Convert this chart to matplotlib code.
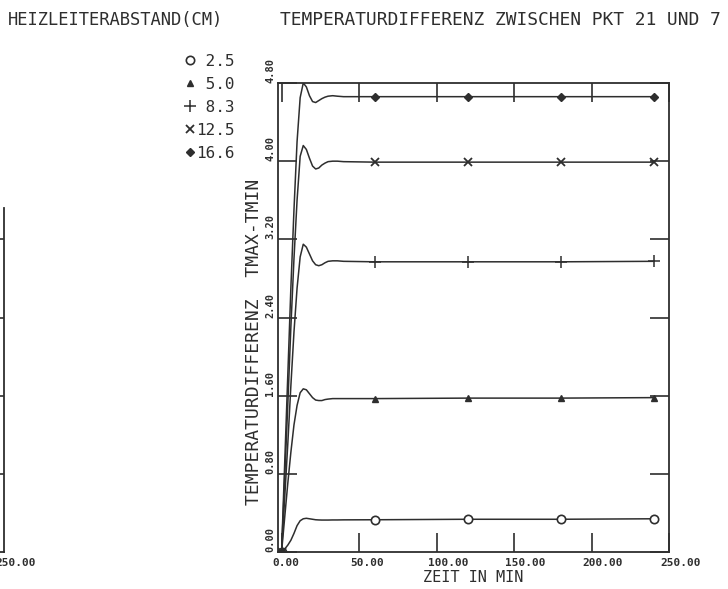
import numpy as np
import matplotlib.pyplot as plt
from matplotlib.lines import Line2D
from matplotlib.transforms import ScaledTranslation

# zeit in min
t = [0, 2, 4, 6, 8, 10, 12, 14, 16, 18, 20, 22, 24, 26, 28, 30, 33, 36, 40, 60, 120, 180, 240]
# temperaturdifferenz tmax-tmin je heizleiterabstand
d_25 = [0, 0.03, 0.07, 0.12, 0.19, 0.27, 0.32, 0.34, 0.345, 0.34, 0.335, 0.33, 0.328, 0.327, 0.327,
        0.327, 0.328, 0.328, 0.329, 0.33, 0.335, 0.335, 0.34]
d_50 = [0, 0.35, 0.7, 1.02, 1.3, 1.5, 1.63, 1.67, 1.66, 1.62, 1.58, 1.555, 1.55, 1.55, 1.56,
        1.565, 1.57, 1.57, 1.57, 1.57, 1.575, 1.575, 1.58]
d_83 = [0, 0.55, 1.1, 1.7, 2.25, 2.7, 3.02, 3.15, 3.12, 3.05, 2.98, 2.94, 2.93, 2.94, 2.96,
        2.975, 2.98, 2.98, 2.975, 2.97, 2.97, 2.97, 2.975]
d_125 = [0, 0.75, 1.5, 2.3, 3.0, 3.6, 4.05, 4.16, 4.12, 4.03, 3.95, 3.92, 3.93, 3.96, 3.98,
         3.995, 4.0, 4.0, 3.995, 3.99, 3.99, 3.99, 3.99]
d_166 = [0, 0.9, 1.8, 2.7, 3.5, 4.2, 4.65, 4.8, 4.76, 4.67, 4.61, 4.6, 4.62, 4.64, 4.655,
         4.665, 4.67, 4.665, 4.66, 4.66, 4.66, 4.66, 4.66]
series = [d_25, d_50, d_83, d_125, d_166]
abstand = [' 2.5', ' 5.0', ' 8.3', '12.5', '16.6']
marker_t = [0, 60, 120, 180, 240]

xticks = [0, 50, 100, 150, 200, 250]
yticks = [0.0, 0.8, 1.6, 2.4, 3.2, 4.0, 4.8]

ink = '#2e2e2e'
mono = 'DejaVu Sans Mono'
styles = [dict(marker='o', ms=6, mfc='white', mec=ink, mew=1.2),
          dict(marker='^', ms=5, mfc=ink, mec=ink),
          dict(marker='+', ms=8, mec=ink, mew=1.1),
          dict(marker='x', ms=6, mec=ink, mew=1.3),
          dict(marker='D', ms=4.5, mfc=ink, mec=ink)]

W, H = 728, 589
fig = plt.figure(figsize=(W / 100, H / 100), dpi=100)

# main panel
ax = fig.add_axes([278 / W, 1 - 552 / H, (669 - 278) / W, (552 - 83) / H])
ax.set_xlim(-2.3, 250)
ax.set_ylim(0, 4.8)
for y, st in zip(series, styles):
    ax.plot(t, y, color=ink, lw=1.1, zorder=2)
    idx = [t.index(m) for m in marker_t]
    ax.plot([t[i] for i in idx], [y[i] for i in idx], ls='none', zorder=3, **st)

for s in ax.spines.values():
    s.set_linewidth(1.3)
    s.set_color(ink)
ax.set_xticks(xticks)
ax.set_yticks(yticks)
ax.tick_params(direction='in', length=14, width=1.2, color=ink,
               top=True, right=True, labelbottom=False, labelleft=False)

off_x = ScaledTranslation(-9 / 100, -6 / 100, fig.dpi_scale_trans)
for xv in xticks:
    ax.text(xv, 0, '%.2f' % xv, transform=ax.get_xaxis_transform() + off_x,
            ha='left', va='top', fontsize=8, family=mono, fontweight='bold', color=ink)
off_y = ScaledTranslation(-3 / 100, 0, fig.dpi_scale_trans)
for yv in yticks:
    ax.text(0, yv, '%.2f' % yv, transform=ax.get_yaxis_transform() + off_y, rotation=90,
            ha='right', va='bottom', fontsize=7.5, family=mono, fontweight='bold', color=ink)

ax.text(0.5, -0.038, 'ZEIT IN MIN', transform=ax.transAxes, ha='center', va='top',
        fontsize=11, family=mono, color=ink)
fig.text(254 / W, 1 - 342 / H, 'TEMPERATURDIFFERENZ  TMAX-TMIN', rotation=90,
         ha='center', va='center', fontsize=13, family=mono, color=ink)

# cut-off neighbour panel on the left
ax2 = fig.add_axes([-0.3, 1 - 552 / H, 0.3 + 4 / W, (552 - 83) / H])
ax2.set_xlim(0, 250)
ax2.set_ylim(0, 4.8)
for k in ['top', 'left']:
    ax2.spines[k].set_visible(False)
ax2.spines['right'].set_bounds(0, 3.52)
for s in ax2.spines.values():
    s.set_linewidth(1.3)
    s.set_color(ink)
ax2.set_xticks([250])
ax2.set_yticks(yticks[1:5])
ax2.tick_params(direction='in', length=14, width=1.2, color=ink, left=False, right=True,
                bottom=False, labelbottom=False, labelleft=False)
ax2.text(250, 0, '250.00', transform=ax2.get_xaxis_transform() + off_x,
         ha='left', va='top', fontsize=8, family=mono, fontweight='bold', color=ink)

# headers
fig.text(8 / W, 1 - 20 / H, 'HEIZLEITERABSTAND(CM)', ha='left', va='center',
         fontsize=12.3, family=mono, color=ink)
fig.text(280 / W, 1 - 20 / H, 'TEMPERATURDIFFERENZ ZWISCHEN PKT 21 UND 7', ha='left',
         va='center', fontsize=12.9, family=mono, color=ink)

handles = [Line2D([], [], ls='none', **st) for st in styles]
fig.legend(handles, abstand, loc='upper left', bbox_to_anchor=(185 / W, 1 - 54 / H),
           frameon=False, handlelength=0.6, handletextpad=0.1, labelspacing=0.5,
           borderpad=0, borderaxespad=0, prop=dict(family=mono, size=11.5),
           labelcolor=ink)

fig.savefig('out.png', dpi=100, facecolor='white')
